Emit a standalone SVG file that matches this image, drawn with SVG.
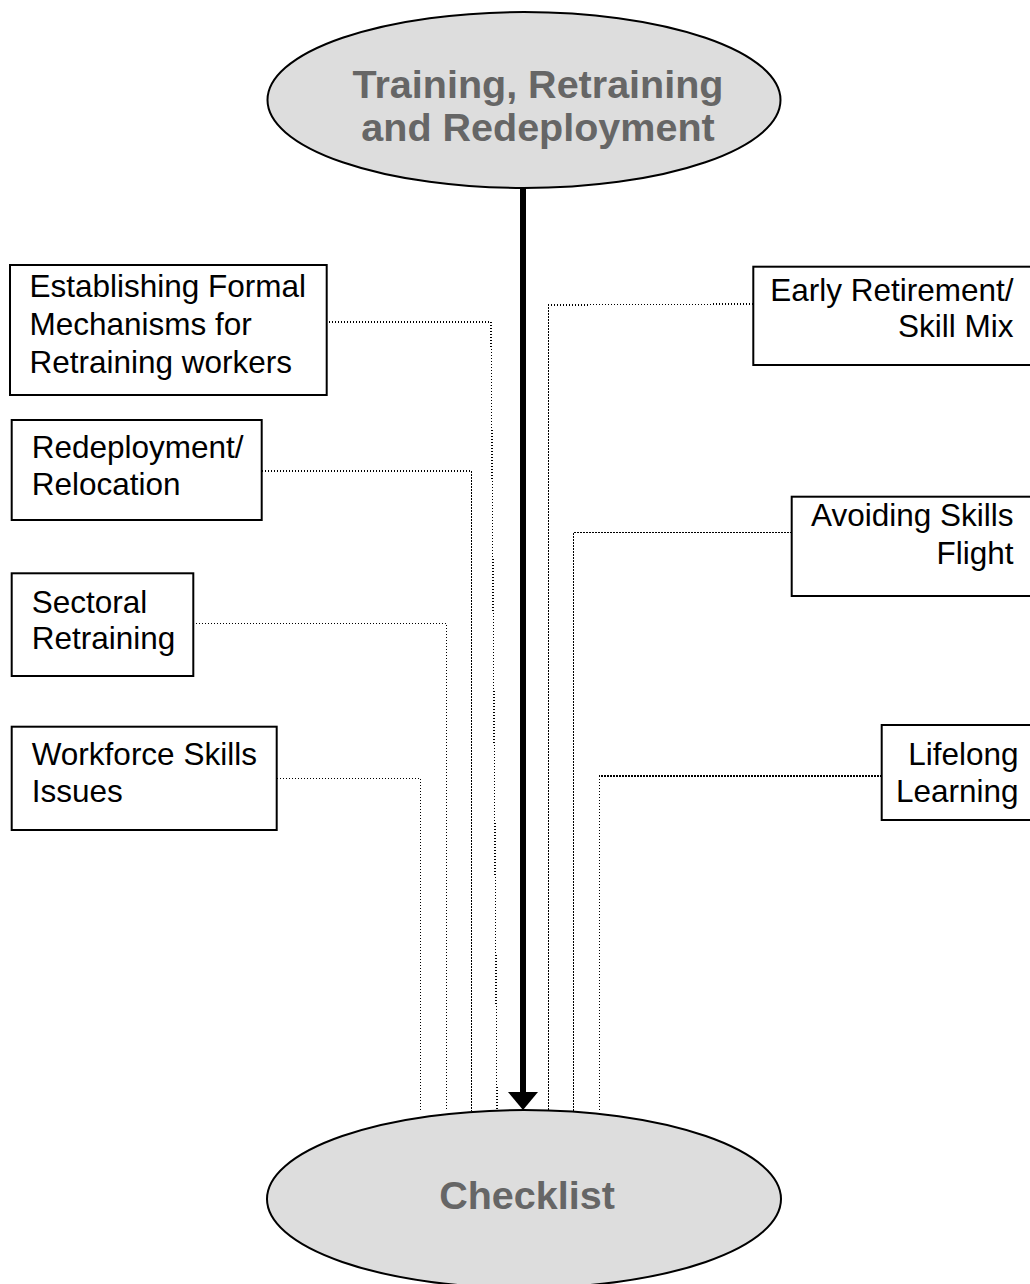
<svg xmlns="http://www.w3.org/2000/svg" width="1030" height="1284" viewBox="0 0 1030 1284">
  <style>
    .oval { fill: #dddddd; stroke: #000000; stroke-width: 2; }
    .oval-text { font-family: "Liberation Sans", Arial, sans-serif; font-weight: bold; font-size: 39.5px; fill: #666666; text-anchor: middle; }
    .box { fill: #ffffff; stroke: #000000; stroke-width: 2; }
    .box-text { font-family: "Liberation Sans", Arial, sans-serif; font-size: 31.5px; fill: #000000; }
    .right { text-anchor: end; }
    .link { fill: none; stroke: #000000; stroke-width: 1.4; stroke-dasharray: 1.4 1.6; shape-rendering: crispEdges; }
    .spine { fill: none; stroke: #000000; stroke-width: 6; }
  </style>

  <rect x="0" y="0" width="1030" height="1284" fill="#ffffff"/>

  <!-- dotted feeders into the checklist -->
  <g id="connectors">
    <polyline class="link" points="323,322 491,322 497,1111"/>
    <polyline class="link" points="262,471 471.7,471 471.7,1111"/>
    <polyline class="link" points="193,623.3 446.3,623.3 446.3,1111"/>
    <polyline class="link" points="277,778.3 420.7,778.3 420.7,1111"/>
    <polyline class="link" points="753,304 548.3,305 548.3,1111"/>
    <polyline class="link" points="791.7,532.5 573.5,532.5 573.5,1111"/>
    <polyline class="link" points="881.7,776 599.5,776 599.5,1111"/>
    <!-- main flow arrow -->
    <line class="spine" x1="523" y1="188" x2="523" y2="1093"/>
    <polygon points="508,1092 538,1092 523,1110" fill="#000000"/>
  </g>

  <g id="node-training">
    <ellipse class="oval" cx="524" cy="100" rx="256.5" ry="88"/>
    <text class="oval-text" x="538" y="98">Training, Retraining</text>
    <text class="oval-text" x="538" y="141">and Redeployment</text>
  </g>

  <g id="node-checklist">
    <ellipse class="oval" cx="524" cy="1199" rx="257" ry="89"/>
    <text class="oval-text" x="527" y="1209">Checklist</text>
  </g>

  <g id="node-formal-mechanisms">
    <rect class="box" x="10" y="265" width="316.7" height="130"/>
    <text class="box-text" x="29.5" y="297">Establishing Formal</text>
    <text class="box-text" x="29.5" y="334.5">Mechanisms for</text>
    <text class="box-text" x="29.5" y="372.5">Retraining workers</text>
  </g>

  <g id="node-redeployment">
    <rect class="box" x="11.7" y="420" width="250" height="100"/>
    <text class="box-text" x="31.7" y="457.5">Redeployment/</text>
    <text class="box-text" x="31.7" y="495">Relocation</text>
  </g>

  <g id="node-sectoral">
    <rect class="box" x="11.7" y="573.3" width="181.6" height="102.7"/>
    <text class="box-text" x="31.7" y="612.7">Sectoral</text>
    <text class="box-text" x="31.7" y="649.3">Retraining</text>
  </g>

  <g id="node-workforce">
    <rect class="box" x="11.7" y="726.7" width="265" height="103.3"/>
    <text class="box-text" x="31.7" y="765">Workforce Skills</text>
    <text class="box-text" x="31.7" y="801.7">Issues</text>
  </g>

  <g id="node-early-retirement">
    <rect class="box" x="753.3" y="266.7" width="290" height="98.3"/>
    <text class="box-text right" x="1013.5" y="300.7">Early Retirement/</text>
    <text class="box-text right" x="1013.5" y="337">Skill Mix</text>
  </g>

  <g id="node-skills-flight">
    <rect class="box" x="791.7" y="496.7" width="250" height="99.3"/>
    <text class="box-text right" x="1013.5" y="526">Avoiding Skills</text>
    <text class="box-text right" x="1013.5" y="564">Flight</text>
  </g>

  <g id="node-lifelong">
    <rect class="box" x="881.7" y="725" width="160" height="95"/>
    <text class="box-text right" x="1018.5" y="765">Lifelong</text>
    <text class="box-text right" x="1018.5" y="801.7">Learning</text>
  </g>
</svg>
